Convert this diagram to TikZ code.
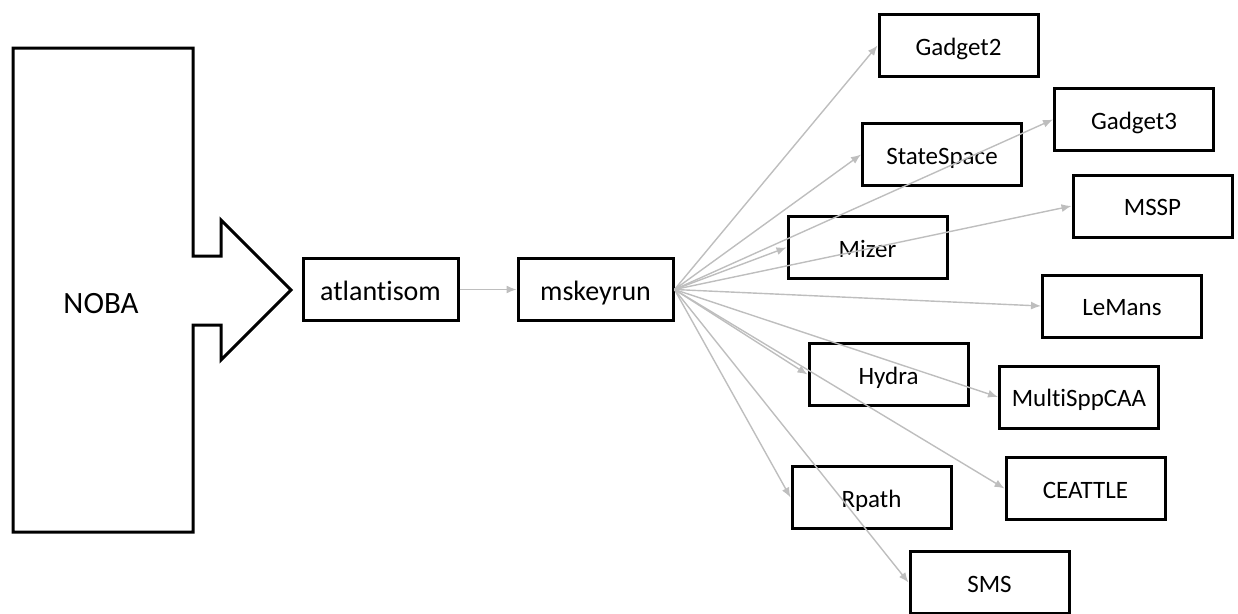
\documentclass[tikz,border=0pt]{standalone}
\usepackage{fontspec}
\setmainfont[Ligatures={NoCommon}]{Carlito}
\usetikzlibrary{arrows.meta}
\definecolor{linkgray}{RGB}{190,190,190}
\begin{document}
\begin{tikzpicture}[x=1pt,y=-1pt,
  modelbox/.style={draw=black, line width=3pt, minimum width=159pt, minimum height=62pt,
    inner sep=0pt, text height=19pt, text depth=0pt, font=\fontsize{25}{30}\selectfont},
  chainbox/.style={modelbox, minimum width=155pt, text height=21pt, font=\fontsize{28}{33}\selectfont},
  link/.style={draw=linkgray, line width=1.4pt, -{Latex[length=10pt,width=8pt]}}]
\useasboundingbox (0,0) rectangle (1238,613);

% NOBA block with its arrow-shaped outlet
\draw[line width=3pt] (13,48) -- (193,48) -- (193,256) -- (221,256) -- (221,220)
  -- (291,290) -- (221,360) -- (221,325) -- (193,325) -- (193,532) -- (13,532) -- cycle;
\node[anchor=base, font=\fontsize{31}{37}\selectfont, inner sep=0pt] (noba) at (101,313) {NOBA};

% processing chain
\node[chainbox] (atl) at (380.5,289.5) {atlantisom};
\node[chainbox] (msk) at (595.5,289.5) {mskeyrun};

% models
\node[modelbox] (gadget2)  at (958.5,45.5)  {Gadget2};
\node[modelbox] (statesp)  at (942,154.5)   {StateSpace};
\node[modelbox] (gadget3)  at (1134,119.5)  {Gadget3};
\node[modelbox] (mssp)     at (1152.5,206)  {MSSP};
\node[modelbox] (mizer)    at (867.5,247.5) {Mizer};
\node[modelbox] (lemans)   at (1122,306)    {LeMans};
\node[modelbox] (hydra)    at (888.5,374.5) {Hydra};
\node[modelbox] (multispp) at (1079,397)    {MultiSppCAA};
\node[modelbox] (rpath)    at (871.5,497.5) {Rpath};
\node[modelbox] (ceattle)  at (1085.5,488.5){CEATTLE};
\node[modelbox] (sms)      at (989.5,582.5) {SMS};

% connectors
\draw[link] (atl.east) -- (msk.west);
\foreach \m in {gadget2,statesp,gadget3,mssp,mizer,lemans,hydra,multispp,rpath,ceattle,sms}
  \draw[link] (msk.east) -- (\m.west);
\end{tikzpicture}
\end{document}
